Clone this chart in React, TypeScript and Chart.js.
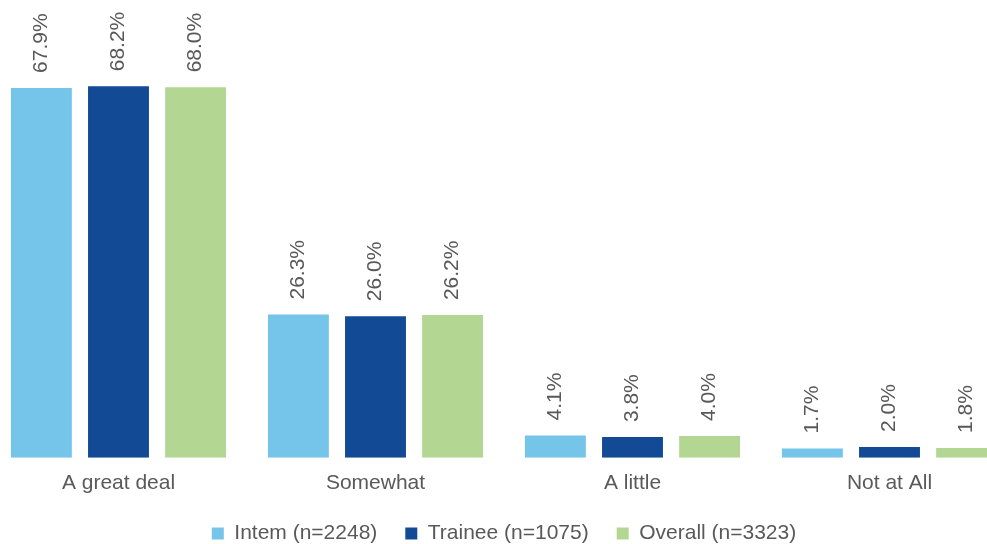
import { useEffect, useRef } from "react";
import { Chart, registerables } from "chart.js";

Chart.register(...registerables);

const categories = ["A great deal", "Somewhat", "A little", "Not at All"];
const seriesNames = ["Intem (n=2248)", "Trainee (n=1075)", "Overall (n=3323)"];
const internValues = [67.9, 26.3, 4.1, 1.7];
const traineeValues = [68.2, 26.0, 3.8, 2.0];
const overallValues = [68.0, 26.2, 4.0, 1.8];
const seriesColors = ["#75C4E9", "#124A96", "#B3D793"];

const FONT = "'Liberation Sans', Arial, sans-serif";
const TEXT_COLOR = "#595959";
const FONT_SIZE = 21;

const valueLabelPlugin = {
  id: "valueLabels",
  afterDatasetsDraw(chart: any) {
    const ctx = chart.ctx;
    ctx.save();
    ctx.font = `${FONT_SIZE}px ${FONT}`;
    ctx.fillStyle = TEXT_COLOR;
    ctx.textAlign = "left";
    ctx.textBaseline = "middle";
    chart.data.datasets.forEach((ds: any, i: number) => {
      const meta = chart.getDatasetMeta(i);
      meta.data.forEach((bar: any, j: number) => {
        const v = ds.data[j] as number;
        ctx.save();
        ctx.translate(bar.x, bar.y - 15);
        ctx.rotate(-Math.PI / 2);
        ctx.fillText(v.toFixed(1) + "%", 0, 0);
        ctx.restore();
      });
    });
    ctx.restore();
  },
};

export default function App() {
  const canvasRef = useRef<HTMLCanvasElement | null>(null);

  useEffect(() => {
    const canvas = canvasRef.current;
    if (!canvas) return;
    const values = [internValues, traineeValues, overallValues];
    const chart = new Chart(canvas, {
      type: "bar",
      data: {
        labels: categories,
        datasets: seriesNames.map((name, i) => ({
          label: name,
          data: values[i],
          backgroundColor: seriesColors[i],
          borderWidth: 0,
          barPercentage: 0.79,
          categoryPercentage: 0.9,
        })),
      },
      options: {
        responsive: false,
        animation: false,
        layout: { padding: { top: 21, bottom: 0, left: 0, right: 0 } },
        plugins: {
          legend: {
            position: "bottom",
            labels: {
              boxWidth: 12,
              boxHeight: 12,
              padding: 28,
              color: TEXT_COLOR,
              font: { size: FONT_SIZE, family: FONT },
            },
          },
          tooltip: { enabled: false },
        },
        scales: {
          x: {
            grid: { display: false, drawTicks: false },
            border: { display: false },
            ticks: {
              padding: 13,
              color: TEXT_COLOR,
              font: { size: FONT_SIZE, family: FONT },
              maxRotation: 0,
            },
            afterFit: (scale: any) => {
              scale.height = scale.height - 14;
            },
          },
          y: {
            display: false,
            min: 0,
            max: 80,
          },
        },
      },
      plugins: [valueLabelPlugin],
    });
    return () => chart.destroy();
  }, []);

  return (
    <div
      style={{
        position: "fixed",
        left: 0,
        top: 0,
        width: 987,
        height: 544,
        overflow: "hidden",
        background: "#ffffff",
      }}
    >
      <canvas
        ref={canvasRef}
        width={1028}
        height={553}
        style={{ position: "absolute", left: -10, top: 1, display: "block" }}
      />
    </div>
  );
}
